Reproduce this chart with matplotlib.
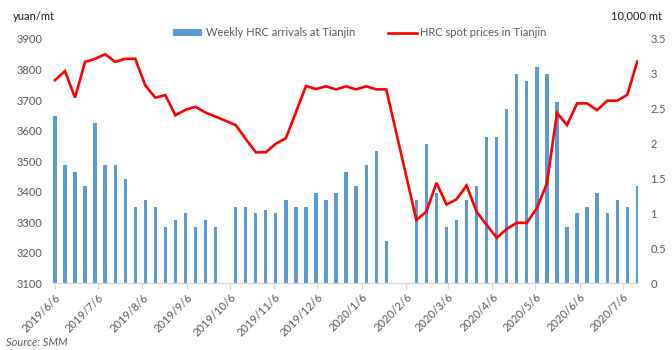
import matplotlib
matplotlib.use("Agg")
import matplotlib.pyplot as plt
import matplotlib.dates as mdates
from matplotlib.ticker import FuncFormatter
import pandas as pd

plt.rcParams['font.family'] = ['Lato', 'DejaVu Sans']

# ---- data ----
dates = [
    "2019-06-06", "2019-06-13", "2019-06-20", "2019-06-27", "2019-07-04", "2019-07-11",
    "2019-07-18", "2019-07-25", "2019-08-01", "2019-08-08", "2019-08-15", "2019-08-22",
    "2019-08-29", "2019-09-05", "2019-09-12", "2019-09-19", "2019-09-26",
    "2019-10-10", "2019-10-17", "2019-10-24", "2019-10-31", "2019-11-07", "2019-11-14",
    "2019-11-21", "2019-11-28", "2019-12-05", "2019-12-12", "2019-12-19", "2019-12-26",
    "2020-01-02", "2020-01-09", "2020-01-16", "2020-01-23",
    "2020-02-13", "2020-02-20", "2020-02-27", "2020-03-05", "2020-03-12", "2020-03-19",
    "2020-03-26", "2020-04-02", "2020-04-09", "2020-04-16", "2020-04-23", "2020-04-30",
    "2020-05-07", "2020-05-14", "2020-05-21", "2020-05-28", "2020-06-04", "2020-06-11",
    "2020-06-18", "2020-06-25", "2020-07-02", "2020-07-09", "2020-07-16",
]
arrivals = [
    2.4, 1.7, 1.6, 1.4, 2.3, 1.7, 1.7, 1.5, 1.1, 1.2, 1.1, 0.8, 0.9, 1.0, 0.8, 0.9, 0.8,
    1.1, 1.1, 1.0, 1.05, 1.0, 1.2, 1.1, 1.1, 1.3, 1.2, 1.3, 1.6, 1.4, 1.7, 1.9, 0.6,
    1.2, 2.0, 1.3, 0.8, 0.9, 1.2, 1.4, 2.1, 2.1, 2.5, 3.0, 2.9, 3.1, 3.0, 2.6,
    0.8, 1.0, 1.1, 1.3, 1.0, 1.2, 1.1, 1.4,
]
prices = [
    3765, 3795, 3708, 3825, 3835, 3850, 3825, 3835, 3835, 3748, 3708, 3716, 3650, 3668,
    3678, 3659, 3646,
    3618, 3573, 3529, 3529, 3557, 3575, 3660, 3746, 3736, 3745, 3735, 3745, 3735, 3745,
    3735, 3735,
    3307, 3335, 3429, 3358, 3375, 3420, 3334, 3291, 3249, 3278, 3298, 3298, 3346, 3427,
    3658, 3618, 3689, 3689, 3667, 3698, 3698, 3717, 3826,
]
tick_dates = ["2019-06-06", "2019-07-06", "2019-08-06", "2019-09-06", "2019-10-06",
              "2019-11-06", "2019-12-06", "2020-01-06", "2020-02-06", "2020-03-06",
              "2020-04-06", "2020-05-06", "2020-06-06", "2020-07-06"]
tick_labels = ["2019/6/6", "2019/7/6", "2019/8/6", "2019/9/6", "2019/10/6", "2019/11/6",
               "2019/12/6", "2020/1/6", "2020/2/6", "2020/3/6", "2020/4/6", "2020/5/6",
               "2020/6/6", "2020/7/6"]
left_ticks = [3100, 3200, 3300, 3400, 3500, 3600, 3700, 3800, 3900]
right_ticks = [0, 0.5, 1, 1.5, 2, 2.5, 3, 3.5]

# ---- plot ----
x = mdates.date2num(pd.to_datetime(dates))
xt = mdates.date2num(pd.to_datetime(tick_dates))

BAR = "#5B9BD5"
GREY = "#595959"
AXC = "#D9D9D9"

fig = plt.figure(figsize=(6.72, 3.5), dpi=100)
ax = fig.add_axes([0.0796, 0.1906, 0.8698, 0.698])
ax2 = ax.twinx()

bars = ax2.bar(x, arrivals, width=2.3, color=BAR, label="Weekly HRC arrivals at Tianjin")
line, = ax.plot(x, prices, color="#FF0000", lw=1.9, label="HRC spot prices in Tianjin",
                solid_joinstyle="miter")

ax.set_zorder(ax2.get_zorder() + 1)
ax.patch.set_visible(False)

ax.set_xlim(x[0] - 1.0, x[-1] + 0.5)
ax.set_ylim(3100, 3900)
ax2.set_ylim(0, 3.5)
ax.set_yticks(left_ticks)
ax2.set_yticks(right_ticks)
ax2.yaxis.set_major_formatter(FuncFormatter(lambda v, p: "%g" % v))

ax.set_xticks(xt)
ax.set_xticklabels(tick_labels, rotation=45, ha="right", va="top",
                   rotation_mode="anchor", fontsize=8, color=GREY)

for a in (ax, ax2):
    for s in a.spines.values():
        s.set_visible(False)
ax.spines["bottom"].set_visible(True)
ax.spines["bottom"].set_color(AXC)
ax.spines["bottom"].set_linewidth(0.9)

ax.tick_params(axis="x", length=4, width=0.9, color=AXC, pad=2)
ax.tick_params(axis="y", length=0, labelsize=8, labelcolor=GREY, pad=8)
ax2.tick_params(axis="y", length=0, labelsize=8, labelcolor=GREY, pad=9)

fig.text(13 / 672, 1 - 16 / 350, "yuan/mt", fontsize=8, color="#1a1a1a", va="center")
fig.text(662 / 672, 1 - 16 / 350, "10,000 mt", fontsize=8, color="#1a1a1a",
         va="center", ha="right")
fig.text(6 / 672, 1 - 342 / 350, "Source: SMM", fontsize=8, color=GREY,
         style="italic", va="center")

leg = fig.legend([bars, line], [bars.get_label(), line.get_label()],
                 loc="center", bbox_to_anchor=(360 / 672, 1 - 33 / 350), ncol=2,
                 frameon=False, fontsize=8, handlelength=2.6, handleheight=0.6,
                 columnspacing=3.0, handletextpad=0.3)
for t in leg.get_texts():
    t.set_color(GREY)

fig.savefig("out.png", dpi=100)
